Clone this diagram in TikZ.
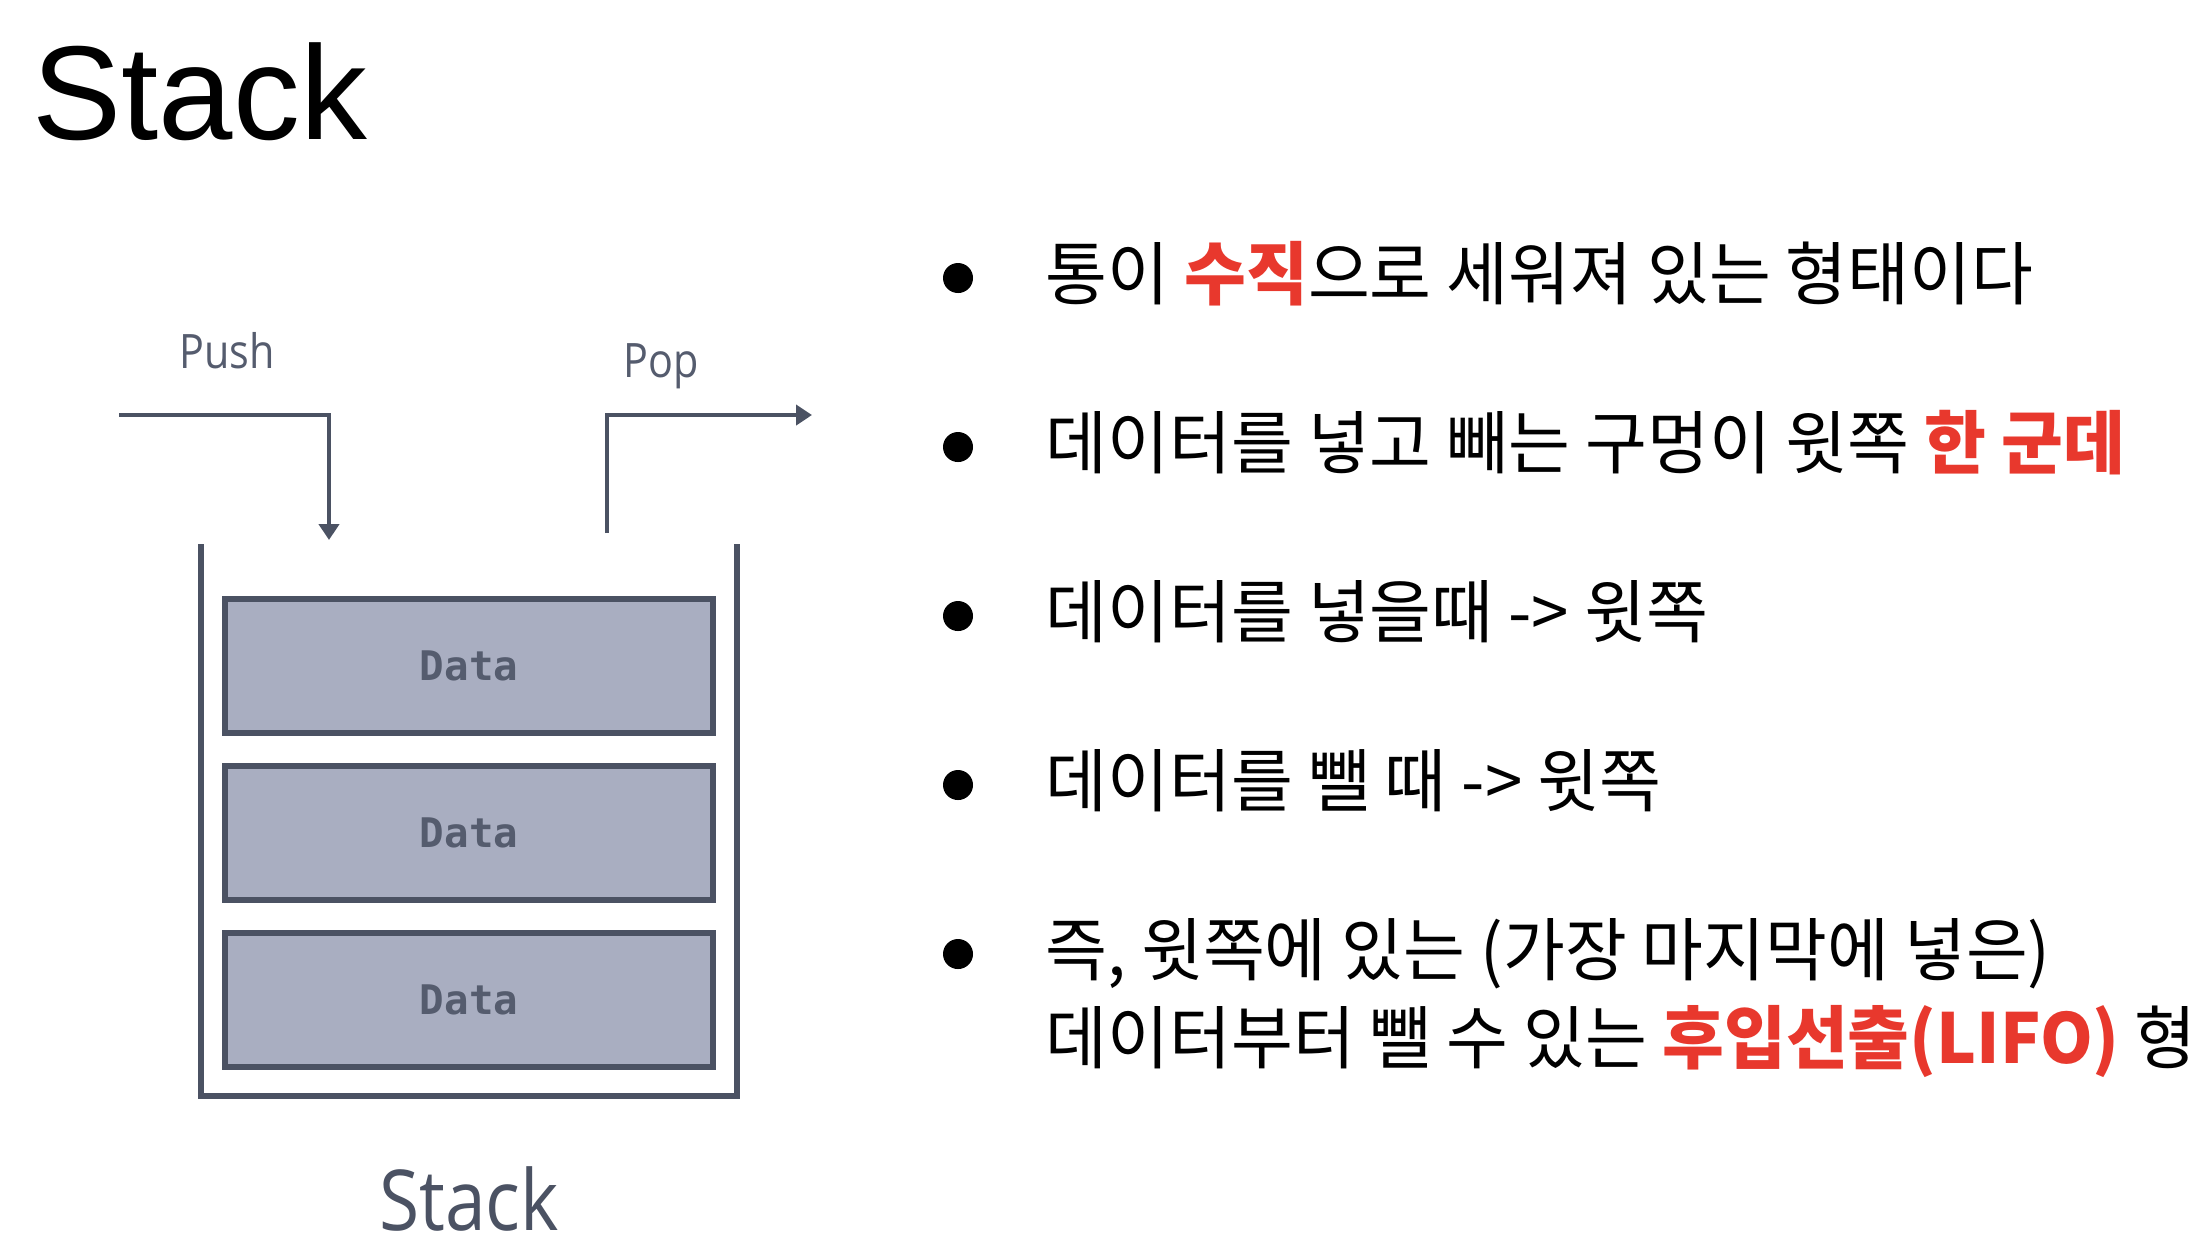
\documentclass[tikz,border=0pt]{standalone}
\usepackage{fontspec}
\usepackage{xcolor}
\usetikzlibrary{arrows.meta,positioning}
\setmainfont{Liberation Sans}
\newfontfamily\figfont[FakeStretch=0.87]{Open Sans}
\newfontfamily\datafont{DejaVu Sans Mono}
\newfontfamily\cjk[FakeStretch=0.975]{Noto Sans CJK KR}

\definecolor{stackgray}{RGB}{75,82,99}
\definecolor{datafill}{RGB}{169,174,193}
\definecolor{labelgray}{RGB}{85,92,110}
\definecolor{hired}{RGB}{232,56,45}

\newcommand{\hl}[1]{{\color{hired}\bfseries #1}}

\tikzset{
  databox/.style={draw=stackgray, fill=datafill, line width=1.7pt,
    minimum width=4.88cm, minimum height=1.33cm, inner sep=0pt,
    font=\datafont\bfseries\fontsize{11.6}{12}\selectfont, text=labelgray},
  oplabel/.style={font=\figfont\fontsize{13.5}{15}\selectfont, text=labelgray,
    anchor=base, inner sep=0pt},
  opline/.style={draw=stackgray, line width=1.4pt},
  itemtext/.style={font=\cjk\fontsize{19.6}{22}\selectfont, anchor=base west,
    inner sep=0pt}
}

\begin{document}
\begin{tikzpicture}[x=0.01cm, y=-0.01cm]
  \fill[white] (0,0) rectangle (2200,1250);
  \useasboundingbox (0,0) rectangle (2200,1250);

  \node[anchor=base west, inner sep=0pt, font=\fontsize{38}{40}\selectfont] (title) at (32,139) {Stack};

  \draw[stackgray, line width=1.45pt] (201,544) -- (201,1096) -- (737,1096) -- (737,544);

  \foreach \y/\name in {666/top, 833/mid, 1000/bot}
    \node[databox] (\name) at (469,\y) {Data};

  \node[font=\figfont\fontsize{23.9}{26}\selectfont, text=stackgray, anchor=base, inner sep=0pt] (caption) at (469,1230) {Stack};

  \node[oplabel] (push) at (227,368) {Push};
  \coordinate (pushin) at (119,415);
  \coordinate (pushend) at (329,540);
  \draw[opline, -{Triangle[width=0.2cm,length=0.16cm]}] (pushin) -| (pushend);

  \node[oplabel] (pop) at (661,377) {Pop};
  \coordinate (popout) at (607,533);
  \coordinate (popend) at (812,415);
  \draw[opline, -{Triangle[width=0.2cm,length=0.16cm]}] (popout) |- (popend);

  \foreach \y in {299,468,637,806,975}
    \fill (958,{\y-21}) circle (0.15cm);

  \node[itemtext] (l1) at (1045,299) {통이 \hl{수직}으로 세워져 있는 형태이다};
  \node[itemtext] (l2) at (1045,468) {데이터를 넣고 빼는 구멍이 윗쪽 \hl{한 군데}};
  \node[itemtext] (l3) at (1045,637) {데이터를 넣을때 -> 윗쪽};
  \node[itemtext] (l4) at (1045,806) {데이터를 뺄 때 -> 윗쪽};
  \node[itemtext] (l5) at (1045,975) {즉, 윗쪽에 있는 (가장 마지막에 넣은)};
  \node[itemtext] (l5b) at (1045,1063) {데이터부터 뺄 수 있는 \hl{후입선출(LIFO)} 형};
\end{tikzpicture}
\end{document}
